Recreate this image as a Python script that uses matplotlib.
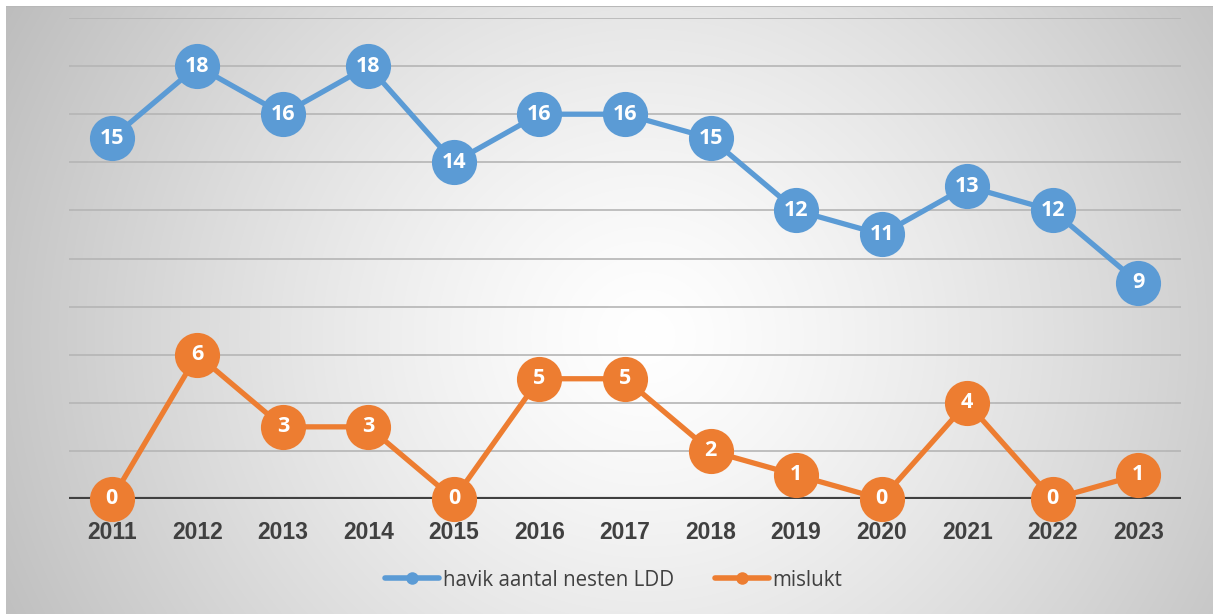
import numpy as np
import matplotlib
matplotlib.use("Agg")
import matplotlib.pyplot as plt
from matplotlib.lines import Line2D
from matplotlib import font_manager as fm

years = ["2011", "2012", "2013", "2014", "2015", "2016", "2017",
         "2018", "2019", "2020", "2021", "2022", "2023"]
havik = [15, 18, 16, 18, 14, 16, 16, 15, 12, 11, 13, 12, 9]
mislukt = [0, 6, 3, 3, 0, 5, 5, 2, 1, 0, 4, 0, 1]
series_names = ["havik aantal nesten LDD", "mislukt"]
colors = ["#5b9bd5", "#ed7d31"]

# find a non-narrow bold Liberation Sans
tick_fp = None
for f in fm.fontManager.ttflist:
    if (f.name == "Liberation Sans" and f.weight in (700, "bold")
            and f.style == "normal" and "Narrow" not in f.fname):
        tick_fp = fm.FontProperties(fname=f.fname, size=16.5)
        break
if tick_fp is None:
    tick_fp = fm.FontProperties(family="DejaVu Sans", weight="bold", size=15)

W, H = 1213, 614
fig = plt.figure(figsize=(W / 100, H / 100), dpi=100)
fig.patch.set_facecolor("white")

bg = fig.add_axes([6 / W, 0, 1 - 6 / W, 1 - 6 / H])
bg.set_axis_off()
yy, xx = np.mgrid[0:608, 0:1207]
cx, cy = 640, 330
d = np.sqrt((xx - cx) ** 2 + ((yy - cy) / 0.95) ** 2)
dmax = np.sqrt(cx ** 2 + (cy / 0.95) ** 2)
t = np.clip(d / dmax, 0, 1)
val = 255 - 66 * t ** 1.3
img = np.dstack([val, val, val]) / 255.0
bg.imshow(img, aspect="auto", extent=[0, 1, 0, 1], interpolation="bilinear")
bg.set_xlim(0, 1)
bg.set_ylim(0, 1)
bg.axhline(1, color="#b8b8b8", lw=1.5)

ax = fig.add_axes([69 / W, 1 - 499 / H, (1181 - 69) / W, (499 - 18) / H])
ax.patch.set_alpha(0)
x = np.arange(len(years))
ax.set_xlim(-0.5, len(years) - 0.5)
ax.set_ylim(0, 20)
ax.set_yticks(np.arange(2, 21, 2))
ax.set_yticklabels([])
ax.tick_params(axis="y", length=0)
ax.grid(axis="y", color="#b5b5b5", lw=1.2)
ax.set_axisbelow(True)
for s in ax.spines.values():
    s.set_visible(False)
ax.axhline(0, color="#404040", lw=3.0, zorder=1.5)

ax.set_xticks(x)
ax.set_xticklabels(years, fontproperties=tick_fp, color="#404040")
ax.tick_params(axis="x", length=0, pad=16)

for vals, c in zip([havik, mislukt], colors):
    ax.plot(x, vals, color=c, lw=3.8, marker="o", ms=32.5, mew=0, mfc=c,
            clip_on=False, zorder=3, solid_capstyle="round")
    for xi, v in zip(x, vals):
        ax.text(xi, v, str(v), ha="center", va="center", color="white",
                fontsize=15.5, fontweight="bold", fontfamily="Open Sans",
                zorder=4, clip_on=False)

handles = [Line2D([0], [0], color=c, lw=4, marker="o", ms=9, mfc=c, mew=0,
                  solid_capstyle="round") for c in colors]
fig.legend(handles, series_names, loc="center", ncol=2,
           bbox_to_anchor=(614 / W, 1 - 580 / H), frameon=False,
           prop={"family": "Open Sans", "size": 14.8}, labelcolor="#404040",
           handlelength=2.6, handletextpad=0.2, columnspacing=2.0)

fig.savefig("out.png", dpi=100, facecolor="white")
